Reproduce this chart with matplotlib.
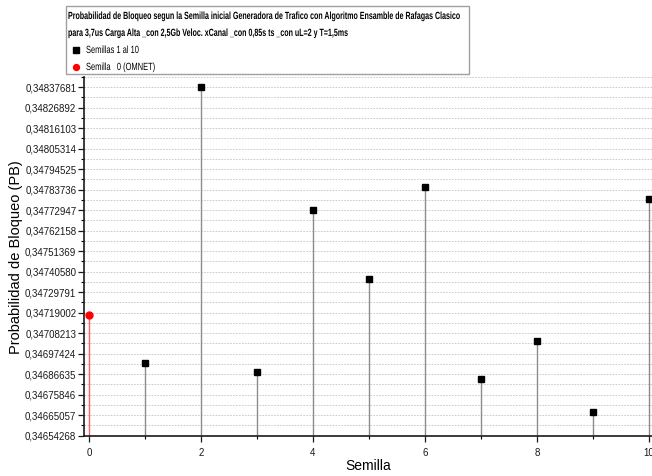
import matplotlib
matplotlib.use("Agg")
import matplotlib.pyplot as plt
from matplotlib import patheffects
from matplotlib.lines import Line2D
from matplotlib.patches import Rectangle
from matplotlib.transforms import Affine2D
from matplotlib.ticker import FixedLocator, FuncFormatter, MultipleLocator

# Seed 0 (OMNET) and seeds 1..10
seed0_x = [0]
seed0_y = [0.34717825]
seeds_x = [1, 2, 3, 4, 5, 6, 7, 8, 9, 10]
seeds_y = [0.34692548, 0.34837681, 0.34687650, 0.34773110, 0.34736620,
           0.34785380, 0.34684280, 0.34704290, 0.34666750, 0.34778750]

y_base = 0.34654268
y_step = 0.00010789
y_ticks = [y_base + k * y_step for k in range(18)]

title_line1 = ("Probabilidad de Bloqueo segun la Semilla inicial Generadora de Trafico "
               "con Algoritmo Ensamble de Rafagas Clasico")
title_line2 = "para 3,7us Carga Alta _con 2,5Gb Veloc. xCanal _con 0,85s ts _con uL=2 y T=1,5ms"
label_seeds = "Semillas 1 al 10"
label_seed0 = "Semilla   0 (OMNET)"


class Condensed(patheffects.AbstractPathEffect):
    """Draw text glyphs squeezed horizontally (narrow typeface look)."""

    def __init__(self, sx):
        super().__init__()
        self.sx = sx

    def draw_path(self, renderer, gc, tpath, affine, rgbFace=None):
        renderer.draw_path(gc, tpath, Affine2D().scale(self.sx, 1.0) + affine, rgbFace)


plt.rcParams['font.family'] = ['Liberation Sans', 'DejaVu Sans']

W, H = 652, 476
fig = plt.figure(figsize=(W / 100, H / 100), dpi=100)
ax = fig.add_axes([84 / W, 40.3 / H, 1 - 84 / W, (399 - 40.3) / H])

ax.vlines(seeds_x, y_base, seeds_y, colors="#8c8c8c", linewidth=1.0, zorder=2)
ax.vlines(seed0_x, y_base, seed0_y, colors="#ff6060", linewidth=1.0, zorder=2)
h1, = ax.plot(seeds_x, seeds_y, linestyle="none", marker="s", markersize=4.5,
              color="black", zorder=3)
h0, = ax.plot(seed0_x, seed0_y, linestyle="none", marker="o", markersize=5,
              color="red", zorder=3)

ax.set_xlim(-0.089, 10.054)
ax.set_ylim(y_base, y_ticks[-1] + 0.5 * y_step)

ax.yaxis.set_major_locator(FixedLocator(y_ticks))
ax.yaxis.set_minor_locator(FixedLocator([t + 0.5 * y_step for t in y_ticks]))
ax.yaxis.set_major_formatter(FuncFormatter(lambda v, p: f"{v:.8f}".replace(".", ",")))
ax.xaxis.set_major_locator(MultipleLocator(2))
ax.xaxis.set_minor_locator(MultipleLocator(1))

ax.grid(which="both", axis="y", color="#c4c4c4", linestyle=(0, (2, 1.5)), linewidth=0.6)
ax.set_axisbelow(True)

for s in ("top", "right"):
    ax.spines[s].set_visible(False)
for s in ("left", "bottom"):
    ax.spines[s].set_linewidth(1.2)
    ax.spines[s].set_color("#1a1a1a")

ax.tick_params(axis="both", which="major", direction="out", length=4.5, width=0.9,
               labelsize=7, colors="#1a1a1a", pad=1)
ax.tick_params(axis="both", which="minor", direction="out", length=2.5, width=0.8)
ax.tick_params(axis="x", which="major", pad=4)

ax.set_ylabel("Probabilidad de Bloqueo (PB)", fontsize=10.5)
ax.yaxis.set_label_coords((23.5 - 84) / (W - 84), (435.7 - 257) / (435.7 - 77))
ax.set_xlabel("Semilla", fontsize=10, labelpad=1)

# Legend box drawn in figure pixels
def fx(px):
    return px / W


def fy(py):
    return 1 - py / H


fig.patches.append(Rectangle((fx(66), fy(74)), fx(469) - fx(66), fy(6) - fy(74),
                             transform=fig.transFigure, facecolor="white",
                             edgecolor="#a0a0a0", linewidth=1.0, zorder=5))
squeeze = [Condensed(0.68)]
fig.text(fx(68), fy(16), title_line1, fontsize=7.5, fontweight="bold", va="center",
         ha="left", path_effects=squeeze, zorder=6)
fig.text(fx(68), fy(33), title_line2, fontsize=7.5, fontweight="bold", va="center",
         ha="left", path_effects=squeeze, zorder=6)
for handle, label, py in ((h1, label_seeds, 50), (h0, label_seed0, 67)):
    fig.lines.append(Line2D([fx(76)], [fy(py)], transform=fig.transFigure,
                            linestyle="none", marker=handle.get_marker(),
                            markersize=handle.get_markersize() * 0.85,
                            color=handle.get_color(), zorder=6))
    fig.text(fx(86), fy(py), label, fontsize=7.5, va="center", ha="left",
             path_effects=[Condensed(0.72)], zorder=6)

fig.savefig("out.png", dpi=100)
